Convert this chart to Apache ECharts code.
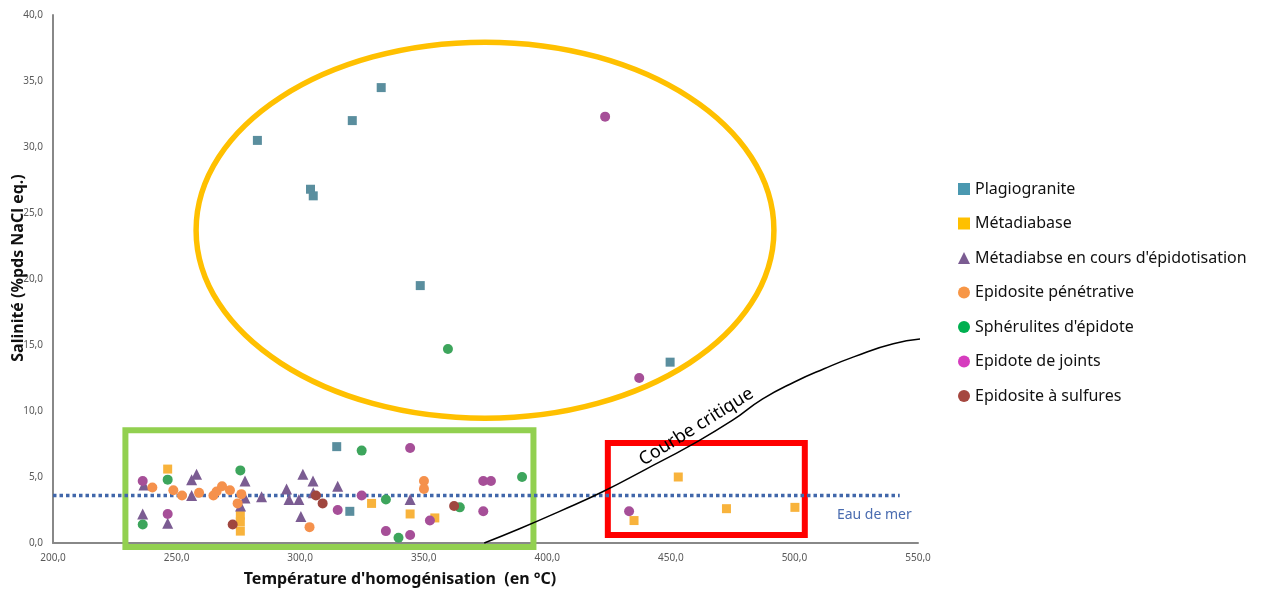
<!DOCTYPE html>
<html><head><meta charset="utf-8">
<script src="https://cdn.jsdelivr.net/npm/echarts@6/dist/echarts.min.js"></script>
<style>html,body{margin:0;padding:0;background:#fff}#c{width:1262px;height:590px}</style>
</head><body><div id="c"></div>
<script>
// ---- data ----
const xRange = [200, 550, 50];
const yRange = [0, 40, 5];
const seriesNames = ["Plagiogranite","Métadiabase","Métadiabse en cours d'épidotisation","Epidosite pénétrative","Sphérulites d'épidote","Epidote de joints","Epidosite à sulfures"];
const plagiogranite = [[282.7,30.5],[304.2,26.8],[305.3,26.3],[321.1,32.0],[332.8,34.5],[348.6,19.5],[449.7,13.7],[314.8,7.3],[320.1,2.4]];
const metadiabase = [[246.4,5.6],[275.8,2.1],[275.8,1.6],[275.8,0.9],[328.9,3.0],[344.5,2.2],[354.5,1.9],[435.1,1.7],[453.0,5.0],[472.5,2.6],[500.2,2.7]];
const metadiabaseEpid = [[236.8,4.4],[236.3,2.2],[246.4,1.5],[256.1,4.8],[258.1,5.2],[256.1,3.6],[277.7,4.7],[277.7,3.4],[275.9,2.8],[284.4,3.5],[294.5,4.1],[295.5,3.3],[299.5,3.3],[301.1,5.2],[300.3,2.0],[305.2,4.7],[305.3,3.8],[315.2,4.3],[344.5,3.3]];
const epidositePen = [[240.2,4.2],[248.7,4.0],[252.2,3.6],[259.1,3.8],[264.9,3.6],[266.2,3.9],[268.4,4.3],[271.6,4.0],[276.2,3.7],[274.7,3.0],[303.8,1.2],[350.1,4.7],[350.1,4.1]];
const spherulites = [[236.3,1.4],[246.4,4.8],[275.8,5.5],[324.9,7.0],[334.7,3.3],[339.8,0.4],[359.8,14.7],[364.6,2.7],[389.8,5.0]];
const epidoteJoints = [[236.3,4.7],[246.4,2.2],[315.2,2.5],[324.9,3.6],[334.7,0.9],[344.5,7.2],[344.5,0.6],[352.5,1.7],[374.1,4.7],[377.2,4.7],[374.1,2.4],[423.4,32.3],[437.2,12.5],[433.1,2.4]];
const epidositeSulf = [[272.7,1.4],[306.4,3.6],[309.1,3.0],[362.3,2.8]];
const seaWater = [[200,3.6],[542.6,3.6]];
const criticalCurve = [[374.5,0],[389,1.1],[405,2.4],[422.6,3.9],[440,5.6],[458,7.4],[475,9.3],[487,10.9],[500,12.2],[512,13.2],[524,14.1],[540,15.1],[554,15.5]];
// annotation shapes in data units
const ellipseAnn = {cx:374.8, cy:23.7, rx:116.9, ry:14.24};
const greenBox = [[229.3,8.54],[394.4,-0.3]];
const redBox = [[424.5,7.58],[504.2,0.6]];

const markerColors = ['#5A8E9E','#F8B33C','#7B5C92','#F5914C','#3DA55C','#A64F98','#A0463F'];
const legendColors = ['#4A98B0','#FFC000','#7B5C92','#F79646','#00B050','#D63CBE','#A5473F'];
const symbols = ['rect','rect','triangle','circle','circle','circle','circle'];
const sizes = [9,9,11,10,10,10,10];
const dataSets = [plagiogranite, metadiabase, metadiabaseEpid, epidositePen, spherulites, epidoteJoints, epidositeSulf];

const fmt = v => v.toFixed(1).replace('.', ',');
const FONT = 'Noto Sans';

const chart = echarts.init(document.getElementById('c'), null, {renderer:'canvas'});
const series = seriesNames.map((n,i)=>({
  name:n, type:'scatter', data:dataSets[i], symbol:symbols[i], symbolSize:sizes[i],
  itemStyle:{color:markerColors[i], opacity:1}, z:5
}));
series.push({type:'line', data:seaWater, symbol:'none', silent:true, z:3,
  lineStyle:{color:'#4167AA', width:3.5, type:[3.5,3]}});
series.push({type:'line', data:criticalCurve, symbol:'none', smooth:true, clip:false, silent:true, z:3,
  lineStyle:{color:'#000', width:1.5}});

chart.setOption({
  backgroundColor:'#fff',
  animation:false,
  grid:{left:53, right:344, top:15, bottom:47},
  xAxis:{type:'value', min:xRange[0], max:xRange[1], interval:xRange[2],
    axisLine:{lineStyle:{color:'#888', width:2}}, axisTick:{show:false}, splitLine:{show:false},
    axisLabel:{formatter:fmt, color:'#595959', fontSize:10, fontFamily:FONT, margin:10}},
  yAxis:{type:'value', min:yRange[0], max:yRange[1], interval:yRange[2],
    axisLine:{show:true, lineStyle:{color:'#888', width:2}}, axisTick:{show:false}, splitLine:{show:false},
    axisLabel:{formatter:fmt, color:'#595959', fontSize:10, fontFamily:FONT, margin:10}},
  legend:{orient:'vertical', left:953, top:176, itemWidth:12, itemHeight:12, itemGap:18.5,
    textStyle:{fontSize:16, color:'#111', fontFamily:FONT, lineHeight:16},
    data:seriesNames.map((n,i)=>({name:n, icon:symbols[i], itemStyle:{color:legendColors[i]}}))},
  series:series
});

function P(pt){ return chart.convertToPixel({gridIndex:0}, pt); }
const c = P([ellipseAnn.cx, ellipseAnn.cy]);
const e1 = P([ellipseAnn.cx+ellipseAnn.rx, ellipseAnn.cy+ellipseAnn.ry]);
const rx = e1[0]-c[0], ry = c[1]-e1[1];
function box(b, color){
  const a = P(b[0]), d = P(b[1]);
  return {type:'rect', shape:{x:a[0], y:a[1], width:d[0]-a[0], height:d[1]-a[1]},
    style:{fill:'none', stroke:color, lineWidth:6}, z:1};
}
const sw = P([517.2, 2.1]);
const cc = P([460.3, 8.8]);
chart.setOption({graphic:[
  {type:'ellipse', shape:{cx:c[0], cy:c[1], rx:rx, ry:ry}, style:{fill:'none', stroke:'#FFC000', lineWidth:5.5}, z:1},
  box(greenBox, '#92D050'),
  box(redBox, '#FF0000'),
  {type:'text', x:sw[0], y:sw[1], style:{text:'Eau de mer', fill:'#4A6CB0', font:'14px "Noto Sans"', textAlign:'left', textVerticalAlign:'middle'}, z:6},
  {type:'text', x:cc[0], y:cc[1], rotation:32*Math.PI/180, style:{text:'Courbe critique', fill:'#000', font:'18px "Noto Sans"', textAlign:'center', textVerticalAlign:'middle'}, z:6},
  {type:'text', x:400, y:579, style:{text:"Température d'homogénisation  (en °C)", fill:'#111', font:'bold 16px "Noto Sans"', textAlign:'center', textVerticalAlign:'middle'}, z:6},
  {type:'text', x:18, y:268, rotation:Math.PI/2, style:{text:'Salinité (%pds NaCl eq.)', fill:'#111', font:'bold 16px "Noto Sans"', textAlign:'center', textVerticalAlign:'middle'}, z:6}
]});
</script>
</body></html>
